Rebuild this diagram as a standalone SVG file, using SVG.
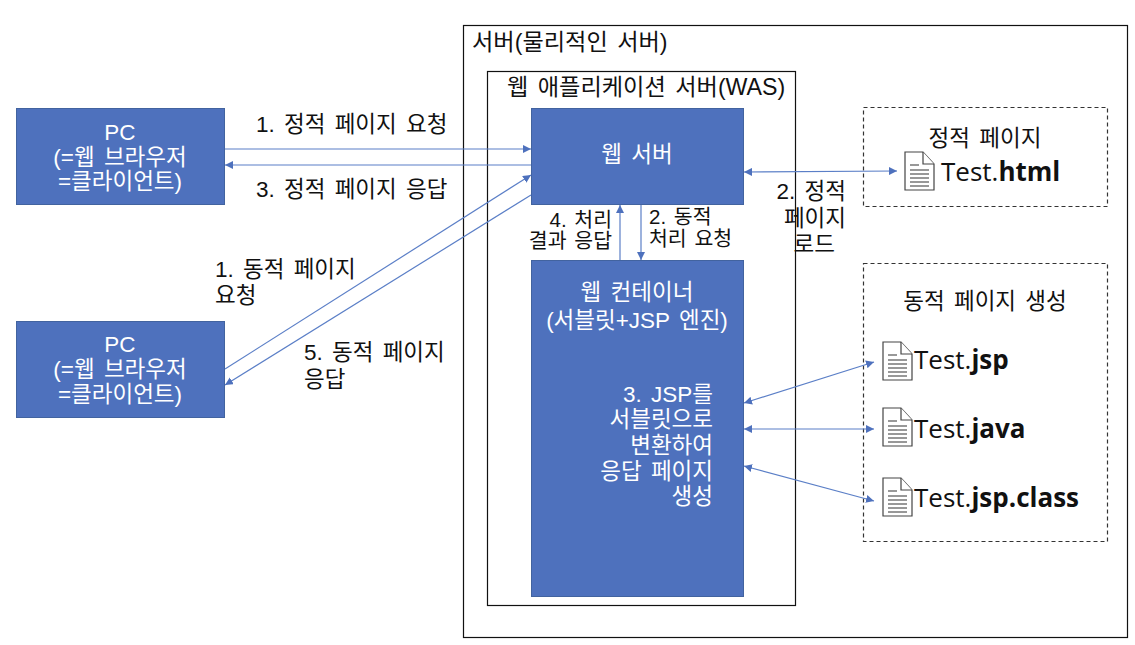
<svg xmlns="http://www.w3.org/2000/svg" width="1135" height="645" viewBox="0 0 1135 645">
<style>
text{font-family:"Liberation Sans","Noto Sans CJK KR",sans-serif;font-size:22.500px;fill:#111;word-spacing:3px}
.w{fill:#fff}
.m{text-anchor:middle}
.e{text-anchor:end}
.t{font-size:23.200px}
.s{font-size:20.500px;word-spacing:2px}
.box{fill:#4e71bd;stroke:#42639f;stroke-width:1}
.frame{fill:none;stroke:#111;stroke-width:1.2}
.dash{fill:#fff;stroke:#333;stroke-width:1.2;stroke-dasharray:4 3}
.c{fill:none;stroke:#5b7fc7;stroke-width:1.2}
.f{font-family:"Open Sans",sans-serif;font-size:26px;word-spacing:0}
.f tspan{font-weight:700}
.doc{fill:#fff;stroke:#444;stroke-width:1.2}
.ln{stroke:#333;stroke-width:1.1}
</style>
<defs>
<marker id="a" viewBox="0 0 10 10" refX="10" refY="5" markerWidth="8" markerHeight="8" markerUnits="userSpaceOnUse" orient="auto-start-reverse"><path d="M0 0L10 5L0 10Z" fill="#4e71bd"/></marker>
<g id="doc"><path class="doc" d="M0 0H18L29 12V38H0Z"/><path class="doc" d="M18 0V12H29"/><path class="ln" d="M5 13H14M5 18H24M5 22H24M5 26H24M5 30H24M5 34H24"/></g>
</defs>
<g id="server"><rect class="frame" x="463.500" y="25.500" width="664" height="612"/><text class="t" x="472" y="50">서버(물리적인 서버)</text></g>
<g id="was"><rect class="frame" x="487.500" y="71.500" width="308" height="534"/><text class="t" x="507" y="95">웹 애플리케이션 서버(WAS)</text></g>
<g id="pc1"><rect class="box" x="16.500" y="108.500" width="208" height="96"/><text class="w m" x="120" y="140">PC</text><text class="w m" x="120" y="165">(=웹 브라우저</text><text class="w m" x="120" y="189">=클라이언트)</text></g>
<g id="pc2"><rect class="box" x="16.500" y="321.500" width="208" height="96"/><text class="w m" x="120" y="352">PC</text><text class="w m" x="120" y="377">(=웹 브라우저</text><text class="w m" x="120" y="402">=클라이언트)</text></g>
<g id="webserver"><rect class="box" x="531.500" y="108.500" width="212" height="96"/><text class="w m" x="637" y="162">웹 서버</text></g>
<g id="container"><rect class="box" x="531.500" y="260.500" width="212" height="336"/><text class="w m" x="637" y="300">웹 컨테이너</text><text class="w m" x="637" y="328">(서블릿+JSP 엔진)</text><text class="w e" x="713" y="402">3. JSP를</text><text class="w e" x="713" y="427">서블릿으로</text><text class="w e" x="713" y="453">변환하여</text><text class="w e" x="713" y="479">응답 페이지</text><text class="w e" x="713" y="504">생성</text></g>
<g id="static"><rect class="dash" x="863.500" y="107.500" width="244" height="99"/><text class="m" x="985" y="146">정적 페이지</text><use href="#doc" x="905" y="152"/><text class="f" x="941" y="181">Test.<tspan>html</tspan></text></g>
<g id="dynamic"><rect class="dash" x="863.500" y="263.500" width="244" height="278"/><text class="m" x="985" y="309">동적 페이지 생성</text><use href="#doc" x="883" y="342"/><text class="f" x="914" y="369">Test.<tspan>jsp</tspan></text><use href="#doc" x="883" y="408"/><text class="f" x="914" y="438">Test.<tspan>java</tspan></text><use href="#doc" x="883" y="478"/><text class="f" x="914" y="507">Test.<tspan>jsp.class</tspan></text></g>
<g id="connectors">
<path class="c" marker-end="url(#a)" d="M225 149H531"/>
<path class="c" marker-end="url(#a)" d="M531 165H225"/>
<path class="c" marker-end="url(#a)" d="M225 369L531 175"/>
<path class="c" marker-end="url(#a)" d="M531 195L225 385"/>
<path class="c" marker-end="url(#a)" d="M620 260V205"/>
<path class="c" marker-end="url(#a)" d="M641 205V260"/>
<path class="c" marker-start="url(#a)" marker-end="url(#a)" d="M744 172L897 171"/>
<path class="c" marker-start="url(#a)" marker-end="url(#a)" d="M744 403L874 362"/>
<path class="c" marker-start="url(#a)" marker-end="url(#a)" d="M744 429H874"/>
<path class="c" marker-start="url(#a)" marker-end="url(#a)" d="M744 466L874 501"/>
</g>
<g id="labels">
<text x="256" y="132">1. 정적 페이지 요청</text>
<text x="256" y="197">3. 정적 페이지 응답</text>
<text x="215" y="277">1.  동적 페이지</text>
<text x="215" y="303">요청</text>
<text x="304" y="360">5. 동적 페이지</text>
<text x="304" y="387">응답</text>
<text class="e s" x="612" y="227">4. 처리</text>
<text class="e s" x="612" y="248">결과 응답</text>
<text class="s" x="649" y="224">2. 동적</text>
<text class="s" x="649" y="246">처리 요청</text>
<text class="e" x="846" y="199">2. 정적</text>
<text class="e" x="846" y="226">페이지</text>
<text class="e" x="835" y="252">로드</text>
</g>
</svg>
